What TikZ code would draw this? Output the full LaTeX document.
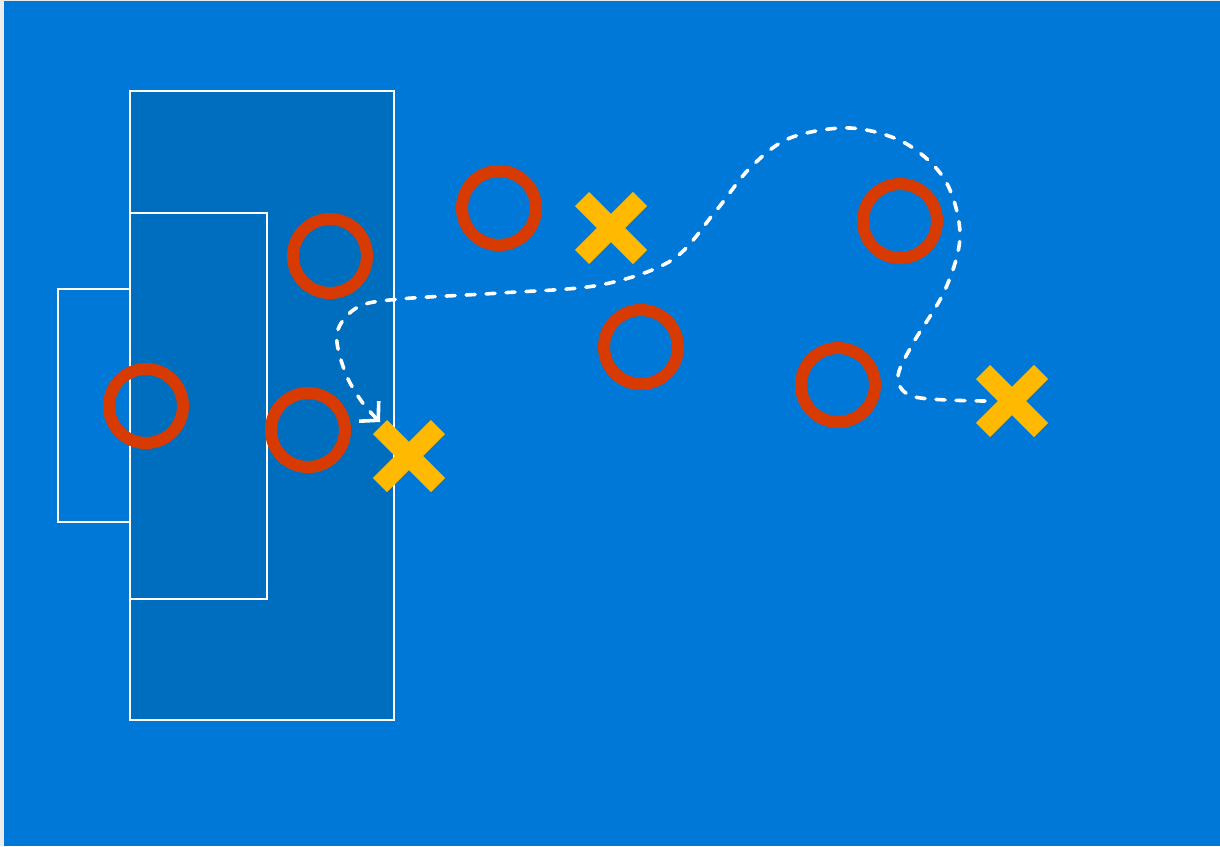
\documentclass[tikz,border=0pt]{standalone}
\usetikzlibrary{arrows.meta, positioning}
\definecolor{pitchblue}{HTML}{0078D7}
\definecolor{boxblue}{HTML}{006EBF}
\definecolor{pagegray}{HTML}{EBEBEB}
\definecolor{oppred}{HTML}{D83B01}
\definecolor{ownyellow}{HTML}{FFB900}

\begin{document}
\begin{tikzpicture}[
  x=1pt, y=-1pt,
  %--- pitch markings ---
  pitchline/.style={draw=white, line width=1.5pt},
  %--- players ---
  ring/.style={
    circle, draw=oppred, line width=12pt,
    minimum size=74pt, inner sep=0pt
  },
  crossmark/.style={
    draw=ownyellow, line width=20pt, line cap=butt
  },
  %--- run of the ball ---
  runpath/.style={
    draw=white, line width=3.6pt, line cap=round,
    dash pattern=on 9pt off 11pt,
    -{Straight Barb[length=13pt, width=28pt, line width=3.6pt]}
  }
]

%------------------------------------------------------------------
%  Background
%------------------------------------------------------------------
\fill[pagegray] (0,0) rectangle (1220,846);
\useasboundingbox (0,0) rectangle (1220,846);
\fill[pitchblue] (4,1) rectangle (1220,846);

%------------------------------------------------------------------
%  Penalty area, goal area, goal
%------------------------------------------------------------------
\path[pitchline, fill=boxblue] (130,91)  rectangle (394,720);
\path[pitchline, fill=boxblue] (130,213) rectangle (267,599);
\path[pitchline, fill=pitchblue] (58,289) rectangle (130,522);

%------------------------------------------------------------------
%  Opponents (rings)
%------------------------------------------------------------------
\node[ring] (keeper) at (146,406) {};
\node[ring] (defl)   at (308,430) {};
\node[ring] (defu)   at (330,256) {};
\node[ring] (midu)   at (499,208) {};
\node[ring] (midc)   at (641,347) {};
\node[ring] (wingu)  at (900,221) {};
\node[ring] (wingl)  at (838,385) {};

%------------------------------------------------------------------
%  Own players (crosses)
%------------------------------------------------------------------
\coordinate (xbox)   at (409,456);
\coordinate (xmid)   at (611,228);
\coordinate (xwing)  at (1012,401);

\foreach \c in {xbox, xmid, xwing}
  \draw[crossmark] ([shift={(-29,-29)}]\c) -- ([shift={(29,29)}]\c)
                   ([shift={(-29,29)}]\c) -- ([shift={(29,-29)}]\c);

%------------------------------------------------------------------
%  Dribble from the wing into the box
%------------------------------------------------------------------
\draw[runpath] plot[smooth, tension=0.55] coordinates {
  ([xshift=-27]xwing) (915,397) (898,378) (912,345) (945,290)
  (960,235) (945,180) (905,143) (850,128) (790,138) (750,168)
  (715,212) (672,260) (600,285) (500,293) (400,299) (358,307)
  (337,333) (345,372) (362,402) (380,422)
};

\end{tikzpicture}
\end{document}
